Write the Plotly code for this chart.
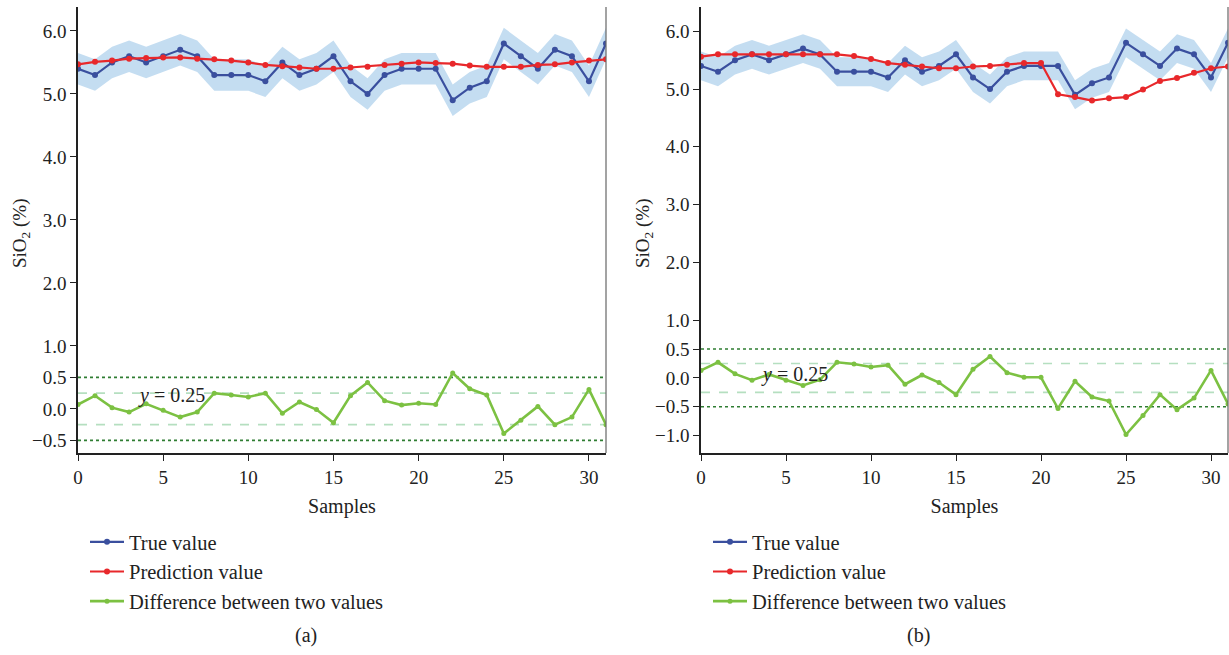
import plotly.graph_objects as go

samples = list(range(32))

true_a = [5.4, 5.3, 5.5, 5.6, 5.5, 5.6, 5.7, 5.6, 5.3, 5.3, 5.3, 5.2, 5.5, 5.3, 5.4, 5.6,
          5.2, 5.0, 5.3, 5.4, 5.4, 5.4, 4.9, 5.1, 5.2, 5.8, 5.6, 5.4, 5.7, 5.6, 5.2, 5.8]
pred_a = [5.47, 5.51, 5.53, 5.56, 5.57, 5.58, 5.58, 5.56, 5.55, 5.53, 5.50, 5.46, 5.44, 5.42, 5.40, 5.40,
          5.42, 5.43, 5.46, 5.48, 5.50, 5.49, 5.48, 5.45, 5.43, 5.43, 5.43, 5.46, 5.47, 5.50, 5.53, 5.55]
diff_a = [0.07, 0.21, 0.02, -0.05, 0.08, -0.02, -0.13, -0.05, 0.25, 0.22, 0.19, 0.25, -0.07, 0.11, -0.01, -0.22,
          0.21, 0.42, 0.13, 0.06, 0.09, 0.07, 0.57, 0.32, 0.22, -0.39, -0.18, 0.04, -0.25, -0.13, 0.31, -0.25]

true_b = true_a
pred_b = [5.56, 5.60, 5.60, 5.60, 5.60, 5.60, 5.60, 5.60, 5.60, 5.57, 5.52, 5.45, 5.42, 5.39, 5.36, 5.36,
          5.39, 5.40, 5.42, 5.45, 5.45, 4.91, 4.86, 4.80, 4.84, 4.86, 4.99, 5.14, 5.19, 5.28, 5.36, 5.39]
diff_b = [0.13, 0.27, 0.07, -0.04, 0.06, -0.04, -0.13, -0.03, 0.27, 0.24, 0.19, 0.22, -0.11, 0.05, -0.08, -0.29,
          0.15, 0.37, 0.09, 0.01, 0.01, -0.53, -0.06, -0.33, -0.40, -0.98, -0.65, -0.29, -0.55, -0.35, 0.13, -0.45]

band_halfwidth = 0.25
ticks_a = [-0.5, 0.0, 0.5, 1.0, 2.0, 3.0, 4.0, 5.0, 6.0]
ticks_b = [-1.0, -0.5, 0.0, 0.5, 1.0, 2.0, 3.0, 4.0, 5.0, 6.0]
xticks = [0, 5, 10, 15, 20, 25, 30]

FONT = "Liberation Serif"
BLUE = "#3a4f9e"
RED = "#e8282b"
GREEN = "#7cc142"
BAND = "rgba(190,217,239,0.9)"
DOT_GREEN = "#2f7d32"
DASH_GREEN = "#b5dfc0"

W, H = 1229, 655


def px(xp):
    return xp / W


def py(yp):
    return (H - yp) / H


fig = go.Figure()


def fmt(v):
    s = f"{v:.1f}"
    return s.replace("-", "\u2212")


def add_panel(xa, ya, true_v, pred_v, diff_v, legend):
    upper = [v + band_halfwidth for v in true_v]
    lower = [v - band_halfwidth for v in true_v]
    fig.add_trace(go.Scatter(x=samples, y=upper, mode="lines", line=dict(width=0), xaxis=xa, yaxis=ya,
                             showlegend=False, hoverinfo="skip"))
    fig.add_trace(go.Scatter(x=samples, y=lower, mode="lines", line=dict(width=0), fill="tonexty",
                             fillcolor=BAND, xaxis=xa, yaxis=ya, showlegend=False, hoverinfo="skip"))
    fig.add_trace(go.Scatter(x=samples, y=true_v, mode="lines+markers", name="True value",
                             line=dict(color=BLUE, width=2.2), marker=dict(color=BLUE, size=6),
                             xaxis=xa, yaxis=ya, legend=legend))
    fig.add_trace(go.Scatter(x=samples, y=pred_v, mode="lines+markers", name="Prediction value",
                             line=dict(color=RED, width=2.2), marker=dict(color=RED, size=6),
                             xaxis=xa, yaxis=ya, legend=legend))
    fig.add_trace(go.Scatter(x=samples, y=diff_v, mode="lines+markers", name="Difference between two values",
                             line=dict(color=GREEN, width=2.6), marker=dict(color=GREEN, size=5),
                             xaxis=xa, yaxis=ya, legend=legend))
    xref = xa + " domain"
    for yv, dash, col in [(0.5, "dot", DOT_GREEN), (-0.5, "dot", DOT_GREEN),
                          (0.25, "dash", DASH_GREEN), (-0.25, "dash", DASH_GREEN)]:
        fig.add_shape(type="line", xref=xref, yref=ya, x0=0, x1=1, y0=yv, y1=yv,
                      line=dict(color=col, width=1.6, dash=dash), layer="below")
    fig.add_shape(type="line", xref=xref, yref=ya + " domain", x0=1, x1=1, y0=0, y1=1,
                  line=dict(color="#666666", width=1.2))


add_panel("x", "y", true_a, pred_a, diff_a, "legend")
add_panel("x2", "y2", true_b, pred_b, diff_b, "legend2")

fig.add_annotation(x=5.5, y=0.22, xref="x", yref="y", text="<i>y</i> = 0.25", showarrow=False,
                   xanchor="center", yanchor="middle", font=dict(family=FONT, size=20, color="#222"))
fig.add_annotation(x=5.5, y=0.06, xref="x2", yref="y2", text="<i>y</i> = 0.25", showarrow=False,
                   xanchor="center", yanchor="middle", font=dict(family=FONT, size=20, color="#222"))

for xc, lab in [(306, "(a)"), (918, "(b)")]:
    fig.add_annotation(x=px(xc), y=py(635), xref="paper", yref="paper", text=lab,
                       xanchor="center", yanchor="middle",
                       showarrow=False, font=dict(family=FONT, size=20, color="#222"))

for xc in [21, 644]:
    fig.add_annotation(x=px(xc), y=py(234), xref="paper", yref="paper", text="SiO<sub>2</sub> (%)",
                       xanchor="center", yanchor="middle",
                       textangle=-90, showarrow=False, font=dict(family=FONT, size=19, color="#222"))

axis_common = dict(showline=True, linecolor="#222", linewidth=1.5, ticks="outside", ticklen=6,
                   tickwidth=1.3, tickcolor="#222", showgrid=False, zeroline=False,
                   tickfont=dict(family=FONT, size=19, color="#222"), automargin=False)

ydom = [py(453), py(7)]

leg_common = dict(xanchor="left", yanchor="top", font=dict(family=FONT, size=20.5, color="#222"),
                  bgcolor="rgba(0,0,0,0)", tracegroupgap=0, itemwidth=34, traceorder="normal")

fig.update_layout(
    width=W, height=H,
    margin=dict(l=0, r=0, t=0, b=0),
    paper_bgcolor="white", plot_bgcolor="white",
    font=dict(family=FONT, color="#222"),
    xaxis=dict(domain=[px(78), px(606)], range=[0, 31], tickvals=xticks,
               title=dict(text="Samples", font=dict(family=FONT, size=20), standoff=12), **axis_common),
    yaxis=dict(domain=ydom, range=[-0.7, 6.38], tickvals=ticks_a, ticktext=[fmt(v) for v in ticks_a],
               anchor="x", **axis_common),
    xaxis2=dict(domain=[px(701), px(1228)], range=[0, 31], tickvals=xticks, anchor="y2",
                title=dict(text="Samples", font=dict(family=FONT, size=20), standoff=12), **axis_common),
    yaxis2=dict(domain=ydom, range=[-1.3, 6.42], tickvals=ticks_b, ticktext=[fmt(v) for v in ticks_b],
                anchor="x2", **axis_common),
    legend=dict(x=px(85), y=py(522), **leg_common),
    legend2=dict(x=px(708), y=py(522), **leg_common),
)

fig.write_html(
    "out.html",
    config={"displayModeBar": False},
    post_script=("document.body.style.margin='0';"
                 "document.body.style.overflow='hidden';"
                 "document.documentElement.style.overflow='hidden';"),
)
